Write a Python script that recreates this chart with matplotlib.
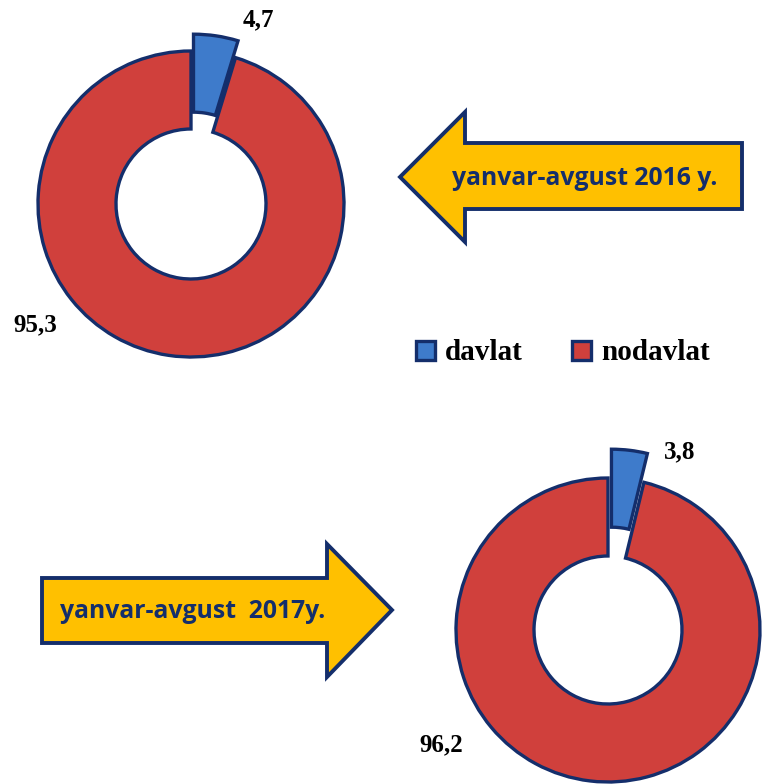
import matplotlib
matplotlib.use("Agg")
import matplotlib.pyplot as plt
from matplotlib.patches import Polygon

# data
categories = ["davlat", "nodavlat"]
share_2016 = [4.7, 95.3]
share_2017 = [3.8, 96.2]
period_2016 = "yanvar-avgust 2016 y."
period_2017 = "yanvar-avgust  2017y."

W, H = 765, 784
RED = "#D0403C"
BLUE = "#3E7BCB"
NAVY = "#142E6B"
GOLD = "#FFC000"


def fmt(v):
    return f"{v:.1f}".replace(".", ",")


def py(y):
    # pixel row (top-down) -> data y
    return H - y


fig = plt.figure(figsize=(W / 100, H / 100), dpi=100)
ax = fig.add_axes([0, 0, 1, 1])

wedge_kw = dict(width=78, edgecolor=NAVY, linewidth=2.4)

# explode is in data units (pixels here)
w1, _ = ax.pie(share_2016, colors=[BLUE, RED], startangle=90, counterclock=False,
               explode=[17, 0], center=(191, py(204)), radius=153,
               wedgeprops=wedge_kw, frame=True)
w2, _ = ax.pie(share_2017, colors=[BLUE, RED], startangle=90, counterclock=False,
               explode=[29, 0], center=(608, py(630)), radius=152,
               wedgeprops=wedge_kw, frame=True)

lab_kw = dict(fontsize=18, fontweight="bold", family="Liberation Serif",
              ha="center", va="center", color="black")
ax.text(258, py(20), fmt(share_2016[0]), **lab_kw)
ax.text(35, py(325), fmt(share_2016[1]), **lab_kw)
ax.text(680, py(452), fmt(share_2017[0]), **lab_kw)
ax.text(441, py(745), fmt(share_2017[1]), **lab_kw)

# arrow pointing left (2016)
arrow1 = [(400, 177), (465, 112), (465, 143), (742, 143), (742, 209),
          (465, 209), (465, 242)]
ax.add_patch(Polygon([(x, py(y)) for x, y in arrow1], closed=True,
                     facecolor=GOLD, edgecolor=NAVY, linewidth=2.8,
                     joinstyle="miter"))
ax.text(585, py(178), period_2016, fontsize=17.8, fontweight="bold",
        family="Open Sans", color=NAVY, ha="center", va="center")

# arrow pointing right (2017)
arrow2 = [(42, 578), (327, 578), (327, 544), (392, 610), (327, 677),
          (327, 643), (42, 643)]
ax.add_patch(Polygon([(x, py(y)) for x, y in arrow2], closed=True,
                     facecolor=GOLD, edgecolor=NAVY, linewidth=2.8,
                     joinstyle="miter"))
ax.text(193, py(612), period_2017, fontsize=17.8, fontweight="bold",
        family="Open Sans", color=NAVY, ha="center", va="center")

fig.legend(w1, categories, loc="center", bbox_to_anchor=(563 / W, 1 - 353 / H),
           ncol=2, frameon=False, handlelength=0.65, handleheight=0.65,
           handletextpad=0.35, columnspacing=1.7,
           prop={"family": "Liberation Serif", "weight": "bold", "size": 21})

ax.set_xlim(0, W)
ax.set_ylim(0, H)
ax.set_aspect("auto")
ax.axis("off")

fig.savefig("out.png", dpi=100)
